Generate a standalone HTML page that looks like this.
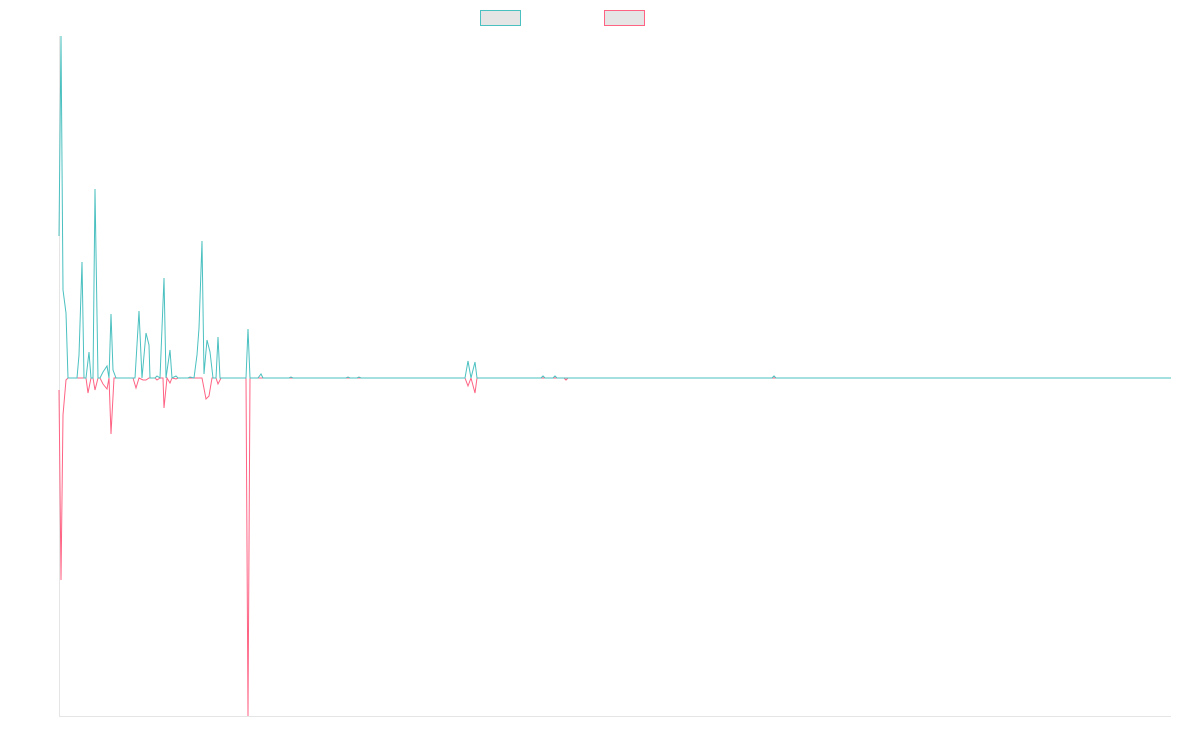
<!DOCTYPE html>
<html><head><meta charset="utf-8"><style>
html,body{margin:0;padding:0;background:#fff;width:1200px;height:750px;overflow:hidden}
</style></head><body>
<svg width="1200" height="750" xmlns="http://www.w3.org/2000/svg">
<rect x="480.5" y="10.5" width="40" height="15" fill="#e5e5e5" stroke="#4bc0c0" stroke-width="1"/>
<rect x="604.5" y="10.5" width="40" height="15" fill="#e5e5e5" stroke="#ff6384" stroke-width="1"/>
<line x1="59.5" y1="36" x2="59.5" y2="716" stroke="#e5e5e5"/>
<line x1="59" y1="716.5" x2="1171" y2="716.5" stroke="#e5e5e5"/>
<polyline fill="none" stroke="#ff6384" stroke-width="1" points="59,390 61,580 63,415 66,380 68,378 86,378 88,393 91,378 93,378 95,390 98,378 100,378 103,384 107,389 109,378 111,434 114,378 133,378 136,388 139,378 143,380 146,380 149,378 155,378 157,380 160,378 163,378 164,408 167,378 170,383 172,378 176,379 178,378 202,378 206,399 209,396 212,378 216,378 218,384 221,378 246,378 248,716 250,378 465,378 468,386 471,378 475,393 477,378 564,378 566,380 568,378 1171,378"/>
<polyline fill="none" stroke="#4bc0c0" stroke-width="1" points="59,236 61,36 63,290 66,313 68,378 77,378 79,355 82,262 84,378 86,378 89,352 91,378 93,378 95,189 98,378 100,378 103,372 107,366 109,378 111,314 113,370 116,378 135,378 139,311 142,378 146,333 149,345 150,378 155,378 157,376 160,378 164,278 166,378 170,350 172,378 176,376 178,378 188,378 190,377 194,378 197,355 199,328 202,241 204,374 207,340 210,352 213,378 216,378 218,337 220,378 225,378 246,378 248,329 250,378 258,378 261,374 263,378 289,378 291,377 293,378 346,378 348,377 350,378 357,378 359,377 361,378 465,378 468,361 471,378 475,362 477,378 541,378 543,376 545,378 553,378 555,376 557,378 772,378 774,376 776,378 1171,378"/>
</svg>
</body></html>
